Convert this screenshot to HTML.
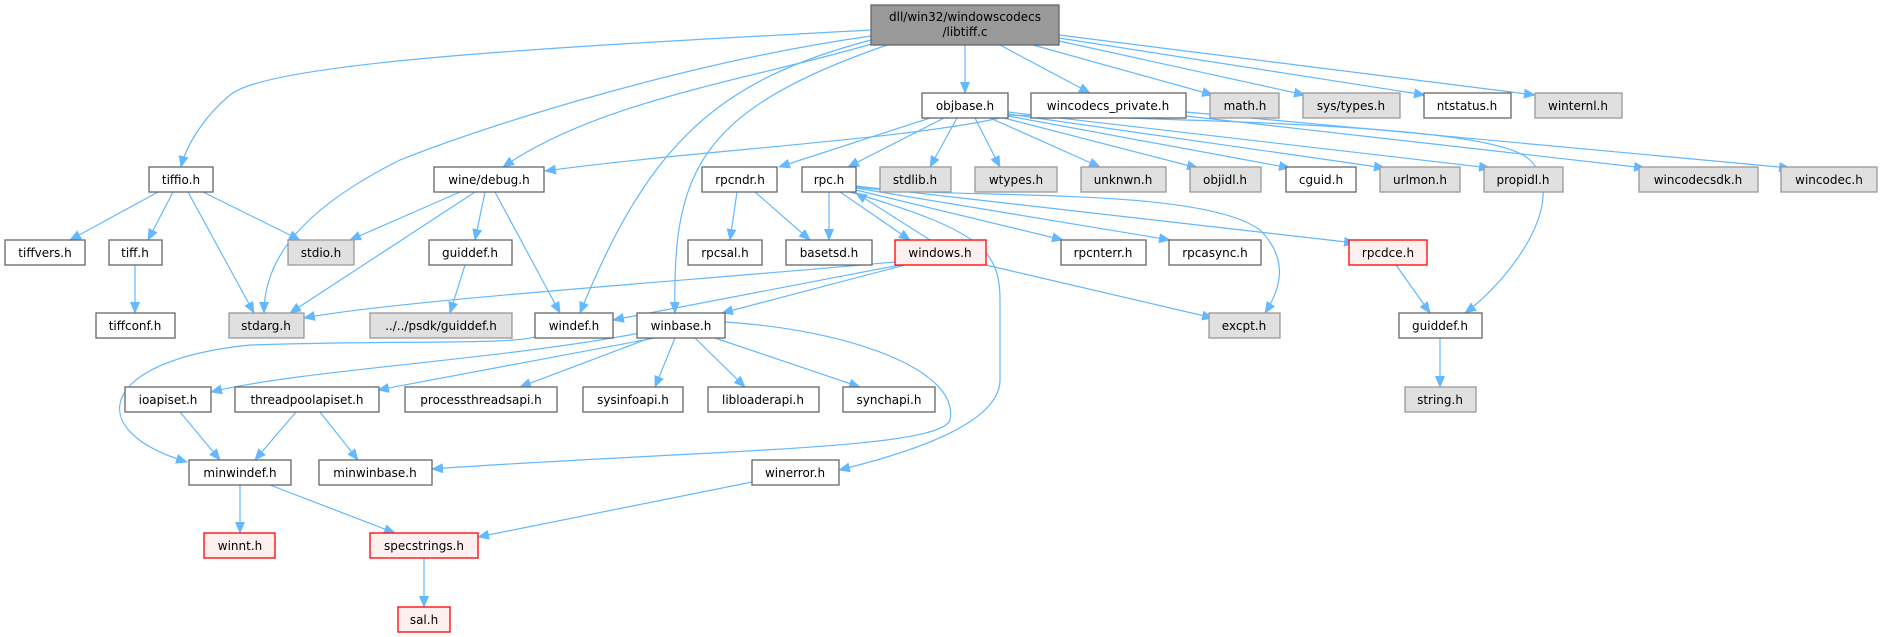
<!DOCTYPE html>
<html><head><meta charset="utf-8"><style>
html,body{margin:0;padding:0;background:#fff;}
svg{display:block;}
text{font-family:"DejaVu Sans","Liberation Sans",sans-serif;font-size:12px;fill:#000;}
.e{fill:none;stroke:#63b8ff;stroke-width:1.2;marker-end:url(#a);}
.w{fill:#fff;stroke:#666;stroke-width:1.3;}
.g{fill:#e0e0e0;stroke:#999;stroke-width:1.3;}
.r{fill:#fff0f0;stroke:#ff0000;stroke-width:1.3;}
.m{fill:#999;stroke:#666;stroke-width:1.3;}
</style></head><body>
<svg width="1882" height="637" viewBox="0 0 1882 637" xmlns="http://www.w3.org/2000/svg">
<defs><marker id="a" markerUnits="userSpaceOnUse" markerWidth="12" markerHeight="10" refX="11" refY="5" orient="auto"><path d="M0,0 L12,5 L0,10 z" fill="#63b8ff"/></marker></defs>
<g>
<path class="e" d="M871,30 C600,45 270,60 230,95 C200,120 185,150 181,167"/>
<path class="e" d="M871,36 C700,60 500,120 400,160 C300,210 264,260 264,313"/>
<path class="e" d="M875,43 C750,80 600,100 503,167"/>
<path class="e" d="M871,40 C720,80 650,140 580,313"/>
<path class="e" d="M887,45 C700,110 672,170 675,313"/>
<path class="e" d="M965,45 L965,93"/>
<path class="e" d="M1000,45 L1090,93"/>
<path class="e" d="M1033,45 L1213,95"/>
<path class="e" d="M1059,41 L1305,95"/>
<path class="e" d="M1059,38 L1425,95"/>
<path class="e" d="M1059,35 L1535,95"/>
<path class="e" d="M1000,118 C900,140 700,150 545,171"/>
<path class="e" d="M930,118 L779,167"/>
<path class="e" d="M944,118 L848,167"/>
<path class="e" d="M957,118 L930,167"/>
<path class="e" d="M975,118 L1000,167"/>
<path class="e" d="M990,118 L1100,167"/>
<path class="e" d="M1000,117 L1198,168"/>
<path class="e" d="M1008,116 L1290,168"/>
<path class="e" d="M1008,114 L1385,168"/>
<path class="e" d="M1008,112 L1490,168"/>
<path class="e" d="M1008,115 C1300,122 1500,130 1530,160 C1570,200 1510,280 1465,313"/>
<path class="e" d="M1186,116 L1645,168"/>
<path class="e" d="M1186,112 L1790,168"/>
<path class="e" d="M158,192 L70,240"/>
<path class="e" d="M173,192 L148,240"/>
<path class="e" d="M203,192 L300,240"/>
<path class="e" d="M188,192 L254,313"/>
<path class="e" d="M135,265 L135,313"/>
<path class="e" d="M460,192 L350,240"/>
<path class="e" d="M475,192 L290,313"/>
<path class="e" d="M485,192 L475,240"/>
<path class="e" d="M495,192 L560,313"/>
<path class="e" d="M465,265 L450,313"/>
<path class="e" d="M737,192 L730,240"/>
<path class="e" d="M755,192 L810,240"/>
<path class="e" d="M829,192 L829,240"/>
<path class="e" d="M840,192 L910,240"/>
<path class="e" d="M930,240 L856,193"/>
<path class="e" d="M856,190 L1063,240"/>
<path class="e" d="M856,188 L1170,240"/>
<path class="e" d="M856,186 L1355,243"/>
<path class="e" d="M856,187 C950,200 1200,185 1260,230 C1290,260 1280,290 1265,313"/>
<path class="e" d="M850,192 C980,230 1000,250 1000,300 L1000,380 C1000,430 880,460 839,470"/>
<path class="e" d="M895,262 C700,280 400,300 304,318"/>
<path class="e" d="M900,265 L613,320"/>
<path class="e" d="M905,265 L722,313"/>
<path class="e" d="M986,265 L1213,318"/>
<path class="e" d="M1396,265 L1430,313"/>
<path class="e" d="M1440,338 L1440,387"/>
<path class="e" d="M537,336 C520,345 400,340 250,345 C100,360 80,430 187,462"/>
<path class="e" d="M640,333 C500,360 300,370 211,392"/>
<path class="e" d="M655,338 L378,390"/>
<path class="e" d="M650,338 L520,387"/>
<path class="e" d="M675,338 L655,387"/>
<path class="e" d="M695,338 L745,387"/>
<path class="e" d="M715,338 L860,387"/>
<path class="e" d="M725,322 C850,330 960,370 950,420 C940,450 700,450 432,469"/>
<path class="e" d="M180,412 L220,460"/>
<path class="e" d="M296,412 L255,460"/>
<path class="e" d="M320,412 L358,460"/>
<path class="e" d="M240,485 L240,533"/>
<path class="e" d="M270,485 L395,533"/>
<path class="e" d="M752,482 L478,537"/>
<path class="e" d="M424,558 L424,607"/>
</g>
<g text-anchor="middle">
<rect class="m" x="871" y="5" width="188" height="40"/><text x="965" y="21">dll/win32/windowscodecs</text><text x="965" y="36">/libtiff.c</text>
<rect class="w" x="922" y="93" width="86" height="25"/><text x="965" y="110">objbase.h</text>
<rect class="w" x="1031" y="93" width="155" height="25"/><text x="1108" y="110">wincodecs_private.h</text>
<rect class="g" x="1210" y="93" width="69" height="25"/><text x="1245" y="110">math.h</text>
<rect class="g" x="1303" y="93" width="97" height="25"/><text x="1351" y="110">sys/types.h</text>
<rect class="w" x="1424" y="93" width="87" height="25"/><text x="1467" y="110">ntstatus.h</text>
<rect class="g" x="1535" y="93" width="87" height="25"/><text x="1578" y="110">winternl.h</text>
<rect class="w" x="149" y="167" width="64" height="25"/><text x="181" y="184">tiffio.h</text>
<rect class="w" x="434" y="167" width="110" height="25"/><text x="489" y="184">wine/debug.h</text>
<rect class="w" x="702" y="167" width="75" height="25"/><text x="740" y="184">rpcndr.h</text>
<rect class="w" x="802" y="167" width="54" height="25"/><text x="829" y="184">rpc.h</text>
<rect class="g" x="880" y="167" width="71" height="25"/><text x="915" y="184">stdlib.h</text>
<rect class="g" x="975" y="167" width="82" height="25"/><text x="1016" y="184">wtypes.h</text>
<rect class="g" x="1081" y="167" width="85" height="25"/><text x="1123" y="184">unknwn.h</text>
<rect class="g" x="1190" y="167" width="71" height="25"/><text x="1225" y="184">objidl.h</text>
<rect class="w" x="1286" y="167" width="70" height="25"/><text x="1321" y="184">cguid.h</text>
<rect class="g" x="1380" y="167" width="80" height="25"/><text x="1420" y="184">urlmon.h</text>
<rect class="g" x="1484" y="167" width="79" height="25"/><text x="1523" y="184">propidl.h</text>
<rect class="g" x="1639" y="167" width="119" height="25"/><text x="1698" y="184">wincodecsdk.h</text>
<rect class="g" x="1781" y="167" width="96" height="25"/><text x="1829" y="184">wincodec.h</text>
<rect class="w" x="5" y="240" width="80" height="25"/><text x="45" y="257">tiffvers.h</text>
<rect class="w" x="109" y="240" width="53" height="25"/><text x="135" y="257">tiff.h</text>
<rect class="g" x="288" y="240" width="66" height="25"/><text x="321" y="257">stdio.h</text>
<rect class="w" x="429" y="240" width="83" height="25"/><text x="470" y="257">guiddef.h</text>
<rect class="w" x="688" y="240" width="74" height="25"/><text x="725" y="257">rpcsal.h</text>
<rect class="w" x="786" y="240" width="86" height="25"/><text x="829" y="257">basetsd.h</text>
<rect class="r" x="895" y="240" width="91" height="25"/><text x="940" y="257">windows.h</text>
<rect class="w" x="1061" y="240" width="85" height="25"/><text x="1103" y="257">rpcnterr.h</text>
<rect class="w" x="1169" y="240" width="92" height="25"/><text x="1215" y="257">rpcasync.h</text>
<rect class="r" x="1349" y="240" width="78" height="25"/><text x="1388" y="257">rpcdce.h</text>
<rect class="w" x="96" y="313" width="79" height="25"/><text x="135" y="330">tiffconf.h</text>
<rect class="g" x="229" y="313" width="75" height="25"/><text x="266" y="330">stdarg.h</text>
<rect class="g" x="370" y="313" width="142" height="25"/><text x="441" y="330">../../psdk/guiddef.h</text>
<rect class="w" x="535" y="313" width="78" height="25"/><text x="574" y="330">windef.h</text>
<rect class="w" x="637" y="313" width="88" height="25"/><text x="681" y="330">winbase.h</text>
<rect class="g" x="1209" y="313" width="71" height="25"/><text x="1244" y="330">excpt.h</text>
<rect class="w" x="1399" y="313" width="83" height="25"/><text x="1440" y="330">guiddef.h</text>
<rect class="w" x="125" y="387" width="86" height="25"/><text x="168" y="404">ioapiset.h</text>
<rect class="w" x="235" y="387" width="144" height="25"/><text x="307" y="404">threadpoolapiset.h</text>
<rect class="w" x="405" y="387" width="152" height="25"/><text x="481" y="404">processthreadsapi.h</text>
<rect class="w" x="583" y="387" width="100" height="25"/><text x="633" y="404">sysinfoapi.h</text>
<rect class="w" x="708" y="387" width="111" height="25"/><text x="763" y="404">libloaderapi.h</text>
<rect class="w" x="843" y="387" width="92" height="25"/><text x="889" y="404">synchapi.h</text>
<rect class="g" x="1405" y="387" width="71" height="25"/><text x="1440" y="404">string.h</text>
<rect class="w" x="189" y="460" width="102" height="25"/><text x="240" y="477">minwindef.h</text>
<rect class="w" x="319" y="460" width="113" height="25"/><text x="375" y="477">minwinbase.h</text>
<rect class="w" x="752" y="460" width="87" height="25"/><text x="795" y="477">winerror.h</text>
<rect class="r" x="204" y="533" width="71" height="25"/><text x="240" y="550">winnt.h</text>
<rect class="r" x="370" y="533" width="108" height="25"/><text x="424" y="550">specstrings.h</text>
<rect class="r" x="398" y="607" width="52" height="25"/><text x="424" y="624">sal.h</text>
</g>
</svg>
</body></html>
